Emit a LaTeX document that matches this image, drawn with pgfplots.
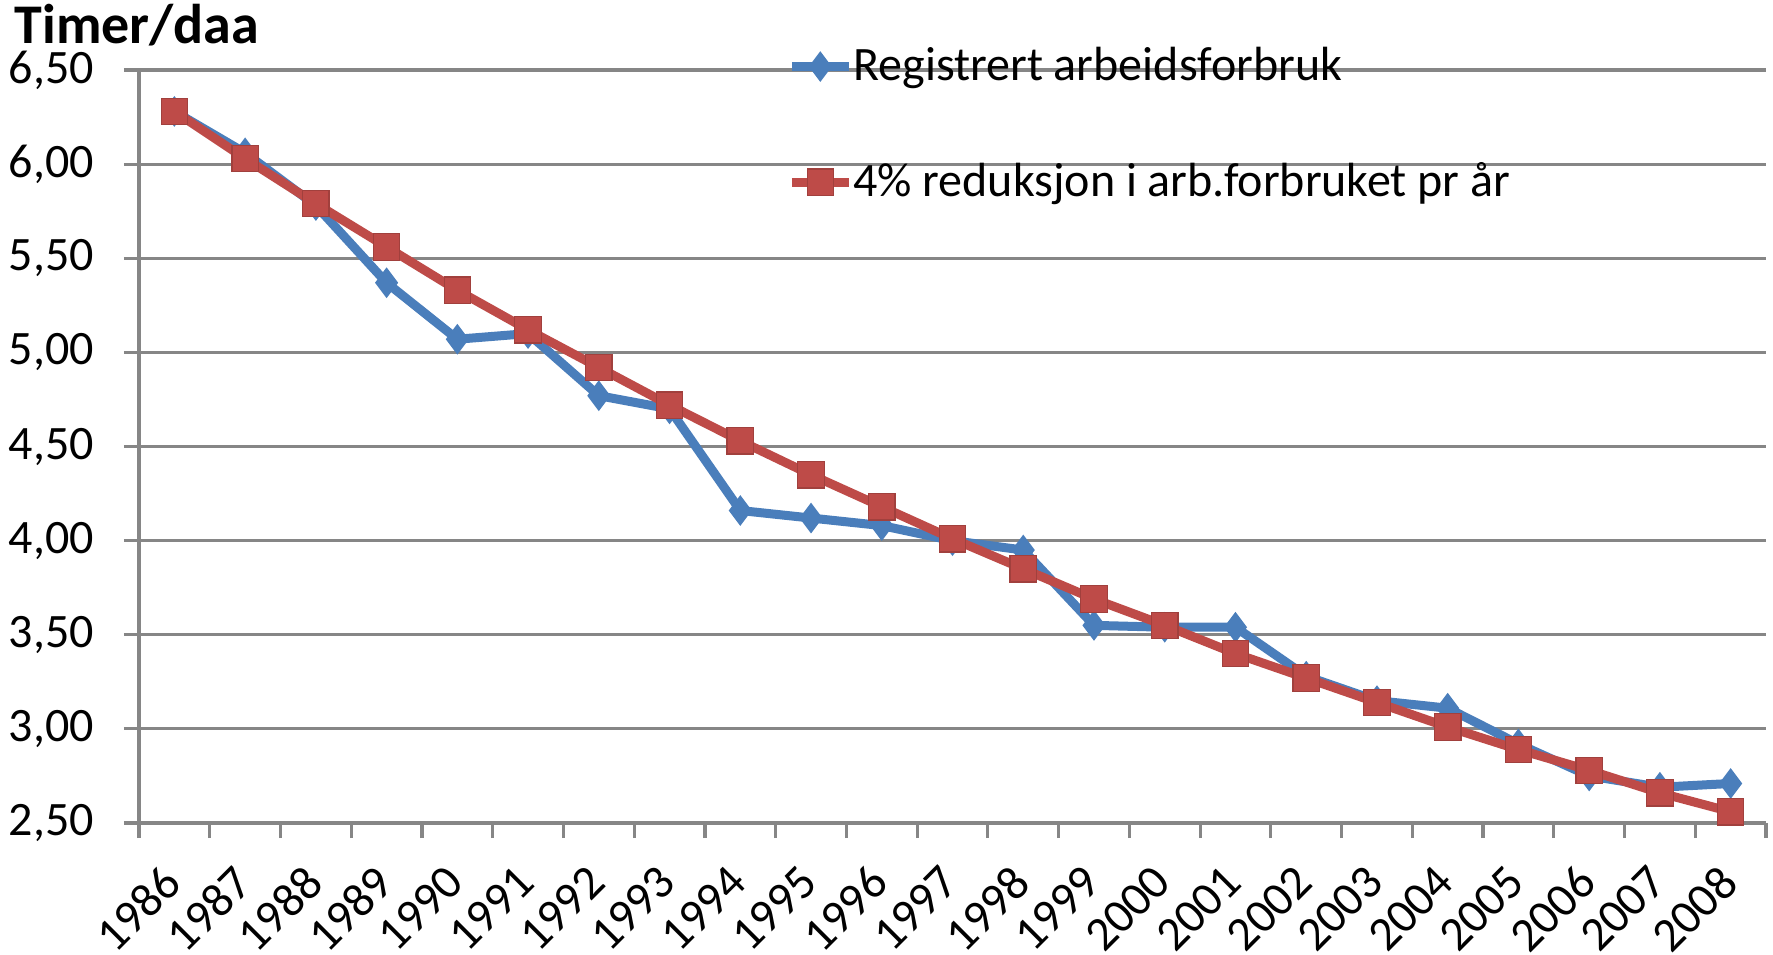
\documentclass[border=0pt]{standalone}
\usepackage{pgfplots}
\pgfplotsset{compat=1.18}
\usepackage{fontspec}
\setmainfont{Carlito}
\definecolor{serblue}{HTML}{4A7EBB}
\definecolor{serred}{HTML}{BE4B48}
\definecolor{gridgray}{HTML}{868686}
\begin{document}
\begin{tikzpicture}
\useasboundingbox (-34.75pt,-32.75pt) rectangle (408.5pt,205.75pt);
\begin{axis}[
  at={(0pt,0pt)}, anchor=south west,
  scale only axis,
  width=406.75pt, height=188.25pt,
  xmin=-0.5, xmax=22.5,
  ymin=2.5, ymax=6.5,
  axis x line*=bottom, axis y line*=left,
  axis line style={gridgray, line width=0.8pt, -},
  xtick={0,...,22},
  xticklabels={1986,1987,1988,1989,1990,1991,1992,1993,1994,1995,1996,1997,1998,1999,2000,2001,2002,2003,2004,2005,2006,2007,2008},
  minor xtick={-0.5,0.5,...,22.5},
  major x tick style={draw=none},
  minor tick length=3.75pt,
  major tick length=3.75pt,
  tick align=outside,
  tick style={gridgray, line width=0.8pt},
  ytick={2.5,3,3.5,4,4.5,5,5.5,6,6.5},
  ymajorgrids,
  major grid style={gridgray, line width=0.8pt},
  /pgf/number format/fixed,
  /pgf/number format/fixed zerofill,
  /pgf/number format/precision=2,
  /pgf/number format/use comma,
  /pgf/number format/assume math mode=true,
  y tick label style={font=\fontsize{12}{14}\selectfont, xshift=-4pt},
  x tick label style={font=\fontsize{12}{14}\selectfont, inner sep=1pt, xshift=-3.4pt, yshift=-4.5pt, rotate=45, anchor=north east},
  legend style={draw=none, fill=none, at={(rel axis cs:0.398,1.053)}, anchor=north west,
     font=\fontsize{12}{14}\selectfont, row sep=15pt, inner xsep=0pt, cells={anchor=west},
     nodes={inner xsep=0pt}},
  legend cell align=left,
  legend image code/.code={\draw[mark repeat=2,mark phase=2] plot coordinates {(0cm,0cm)(0.25cm,0cm)(0.5cm,0cm)};},
  clip=false,
]
\addplot[serblue, line width=2.25pt, mark=diamond*, mark size=3.6pt, mark options={solid, fill=serblue, draw=serblue, line width=0.3pt}] coordinates {
(0,6.28) (1,6.06) (2,5.78) (3,5.37) (4,5.07) (5,5.10) (6,4.77) (7,4.70) (8,4.16) (9,4.12) (10,4.08) (11,4.00) (12,3.95) (13,3.55) (14,3.54) (15,3.54) (16,3.28) (17,3.15) (18,3.11) (19,2.92) (20,2.75) (21,2.69) (22,2.71)
};
\addlegendentry{Registrert arbeidsforbruk}
\addplot[serred, line width=2.25pt, mark=square*, mark size=3.3pt, mark options={solid, fill=serred, draw=serred!85!black, line width=0.3pt}] coordinates {
(0,6.28) (1,6.03) (2,5.79) (3,5.56) (4,5.33) (5,5.12) (6,4.92) (7,4.72) (8,4.53) (9,4.35) (10,4.18) (11,4.01) (12,3.85) (13,3.69) (14,3.55) (15,3.40) (16,3.27) (17,3.14) (18,3.01) (19,2.89) (20,2.78) (21,2.66) (22,2.56)
};
\addlegendentry{4\% reduksjon i arb.forbruket pr år}
\node[anchor=west, font=\fontsize{14}{16}\selectfont\bfseries, inner sep=0pt] at (rel axis cs:-0.077,1.06) {Timer/daa};
\end{axis}
\end{tikzpicture}
\end{document}
